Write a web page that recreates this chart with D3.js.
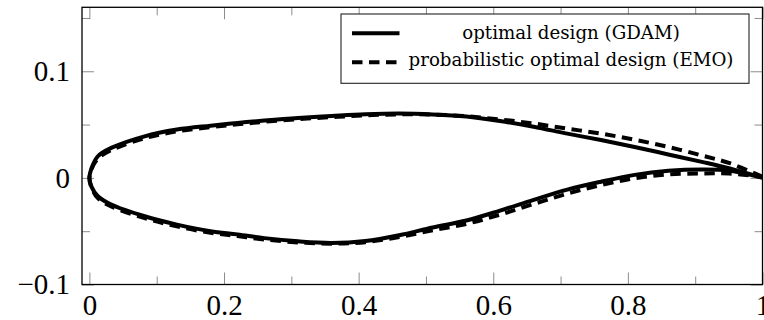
<!DOCTYPE html>
<html>
<head>
<meta charset="utf-8">
<script src="https://cdn.jsdelivr.net/npm/d3@7"></script>
<style>
  body { margin: 0; background: #fff; }
  svg { display: block; }
</style>
</head>
<body>
<svg id="airfoil" width="764" height="320"></svg>
<script>
// chord stations (x/c) shared by every surface
var xStations = [0, 0.003, 0.0126, 0.0324, 0.082, 0.13, 0.18, 0.22, 0.26, 0.31, 0.36, 0.41,
                 0.46, 0.51, 0.56, 0.61, 0.66, 0.71, 0.76, 0.81, 0.86, 0.91, 0.95, 1.0];

// optimal design (GDAM), solid
var gdamUpper = [0, 0.0088, 0.0203, 0.0281, 0.039, 0.0453, 0.049, 0.0516, 0.0538, 0.0562, 0.058, 0.0596,
                 0.0603, 0.0595, 0.0575, 0.0533, 0.048, 0.0415, 0.0355, 0.029, 0.022, 0.015, 0.009, 0];
var gdamLower = [0, -0.0082, -0.0172, -0.025, -0.036, -0.0438, -0.050, -0.053, -0.0565, -0.0595, -0.061, -0.0592,
                 -0.0538, -0.0465, -0.0400, -0.0307, -0.0206, -0.011, -0.0036, 0.0028, 0.0066, 0.0078, 0.0068, 0];

// probabilistic optimal design (EMO), dashed
var emoUpper = [0, 0.008, 0.018, 0.026, 0.0372, 0.0436, 0.0476, 0.0502, 0.0526, 0.0551, 0.057, 0.0586,
                0.0596, 0.0594, 0.0578, 0.0548, 0.051, 0.0462, 0.0415, 0.0358, 0.029, 0.021, 0.014, 0.001];
var emoLower = [0, -0.0088, -0.019, -0.0268, -0.0378, -0.0455, -0.0515, -0.0545, -0.0578, -0.0605, -0.0617, -0.0603,
                -0.0555, -0.0492, -0.0432, -0.0345, -0.0245, -0.0148, -0.0068, -0.0003, 0.0032, 0.0042, 0.004, 0.001];

var legendLabels = ["optimal design (GDAM)", "probabilistic optimal design (EMO)"];

var xMajorTicks = [0, 0.2, 0.4, 0.6, 0.8, 1];
var xMinorTicks = [0.1, 0.3, 0.5, 0.7, 0.9];
var yMajorTicks = [-0.1, 0, 0.1];
var yMinorTicks = [-0.05, 0.05, 0.15];

var xDomain = [-0.011, 1];
var yDomain = [-0.1, 0.16];

var box = {left: 82, right: 762.5, top: 7.3, bottom: 284.5};

var svg = d3.select("#airfoil");

var x = d3.scaleLinear().domain(xDomain).range([box.left, box.right]);
var y = d3.scaleLinear().domain(yDomain).range([box.bottom, box.top]);

var fmt = function(d) { return d3.format(".1~f")(d); };
var tickFont = "'Liberation Serif', 'Times New Roman', serif";
var tickGrey = "#8c8c8c";

// ticks point inwards on all four sides, majors longer than minors
function styleAxis(g) {
  g.select(".domain").remove();
  g.selectAll(".tick line").attr("stroke", tickGrey).attr("stroke-width", 1);
  g.selectAll(".tick text")
    .attr("fill", "#000")
    .style("font-family", tickFont)
    .style("font-size", "29px");
}

svg.append("g")
    .attr("transform", "translate(0," + box.bottom + ")")
    .call(d3.axisBottom(x).tickValues(xMajorTicks).tickFormat(fmt).tickSizeInner(-12).tickSizeOuter(0).tickPadding(10))
    .call(styleAxis);
svg.append("g")
    .attr("transform", "translate(0," + box.bottom + ")")
    .call(d3.axisBottom(x).tickValues(xMinorTicks).tickFormat("").tickSizeInner(-8).tickSizeOuter(0))
    .call(styleAxis);
svg.append("g")
    .attr("transform", "translate(0," + box.top + ")")
    .call(d3.axisTop(x).tickValues(xMajorTicks).tickFormat("").tickSizeInner(-12).tickSizeOuter(0))
    .call(styleAxis);
svg.append("g")
    .attr("transform", "translate(0," + box.top + ")")
    .call(d3.axisTop(x).tickValues(xMinorTicks).tickFormat("").tickSizeInner(-8).tickSizeOuter(0))
    .call(styleAxis);

svg.append("g")
    .attr("transform", "translate(" + box.left + ",0)")
    .call(d3.axisLeft(y).tickValues(yMajorTicks).tickFormat(fmt).tickSizeInner(-12).tickSizeOuter(0).tickPadding(12))
    .call(styleAxis);
svg.append("g")
    .attr("transform", "translate(" + box.left + ",0)")
    .call(d3.axisLeft(y).tickValues(yMinorTicks).tickFormat("").tickSizeInner(-8).tickSizeOuter(0))
    .call(styleAxis);
svg.append("g")
    .attr("transform", "translate(" + box.right + ",0)")
    .call(d3.axisRight(y).tickValues(yMajorTicks).tickFormat("").tickSizeInner(-12).tickSizeOuter(0))
    .call(styleAxis);
svg.append("g")
    .attr("transform", "translate(" + box.right + ",0)")
    .call(d3.axisRight(y).tickValues(yMinorTicks).tickFormat("").tickSizeInner(-8).tickSizeOuter(0))
    .call(styleAxis);

// clip the shapes to the plot box
svg.append("clipPath").attr("id", "plotClip")
  .append("rect")
    .attr("x", box.left).attr("y", box.top)
    .attr("width", box.right - box.left).attr("height", box.bottom - box.top);

// one path per design: trailing edge -> upper surface -> leading edge -> lower surface -> trailing edge
function outline(upper, lower) {
  var pts = [];
  for (var i = xStations.length - 1; i >= 0; i--) pts.push([xStations[i], upper[i]]);
  for (var j = 1; j < xStations.length; j++) pts.push([xStations[j], lower[j]]);
  return pts;
}

var line = d3.line()
    .x(function(d) { return x(d[0]); })
    .y(function(d) { return y(d[1]); })
    .curve(d3.curveCatmullRom.alpha(0.5));

var shapes = svg.append("g").attr("clip-path", "url(#plotClip)");

shapes.append("path")
    .attr("d", line(outline(emoUpper, emoLower)))
    .attr("fill", "none")
    .attr("stroke", "#000")
    .attr("stroke-width", 4)
    .attr("stroke-dasharray", "10.5,6.5");

shapes.append("path")
    .attr("d", line(outline(gdamUpper, gdamLower)))
    .attr("fill", "none")
    .attr("stroke", "#000")
    .attr("stroke-width", 4)
    .attr("stroke-linejoin", "round");

// axis frame
svg.append("rect")
    .attr("x", box.left).attr("y", box.top)
    .attr("width", box.right - box.left).attr("height", box.bottom - box.top)
    .attr("fill", "none")
    .attr("stroke", "#000")
    .attr("stroke-width", 1.3);

// legend
var legend = svg.append("g");
legend.append("rect")
    .attr("x", 341).attr("y", 14)
    .attr("width", 408).attr("height", 69.3)
    .attr("fill", "#fff")
    .attr("stroke", "#222")
    .attr("stroke-width", 1.1);

var rows = [
  {label: legendLabels[0], dash: null, ly: 33.3, ty: 39.3},
  {label: legendLabels[1], dash: "10.5,6.5", ly: 62.3, ty: 66.3}
];

rows.forEach(function(r) {
  legend.append("line")
      .attr("x1", 352).attr("x2", 399.5)
      .attr("y1", r.ly).attr("y2", r.ly)
      .attr("stroke", "#000")
      .attr("stroke-width", 4)
      .attr("stroke-dasharray", r.dash);
});

var legendTexts = legend.selectAll(".legend-text")
    .data(rows)
  .enter().append("text")
    .attr("class", "legend-text")
    .attr("x", 571)
    .attr("y", function(d) { return d.ty; })
    .attr("text-anchor", "middle")
    .style("font-family", "'DejaVu Serif', serif")
    .style("font-size", "17px")
    .text(function(d) { return d.label; });

// size the legend font so the long entry spans the same width as in the original
var w = legendTexts.nodes()[1].getComputedTextLength();
legendTexts.style("font-size", (17 * 325 / w) + "px");
</script>
</body>
</html>
